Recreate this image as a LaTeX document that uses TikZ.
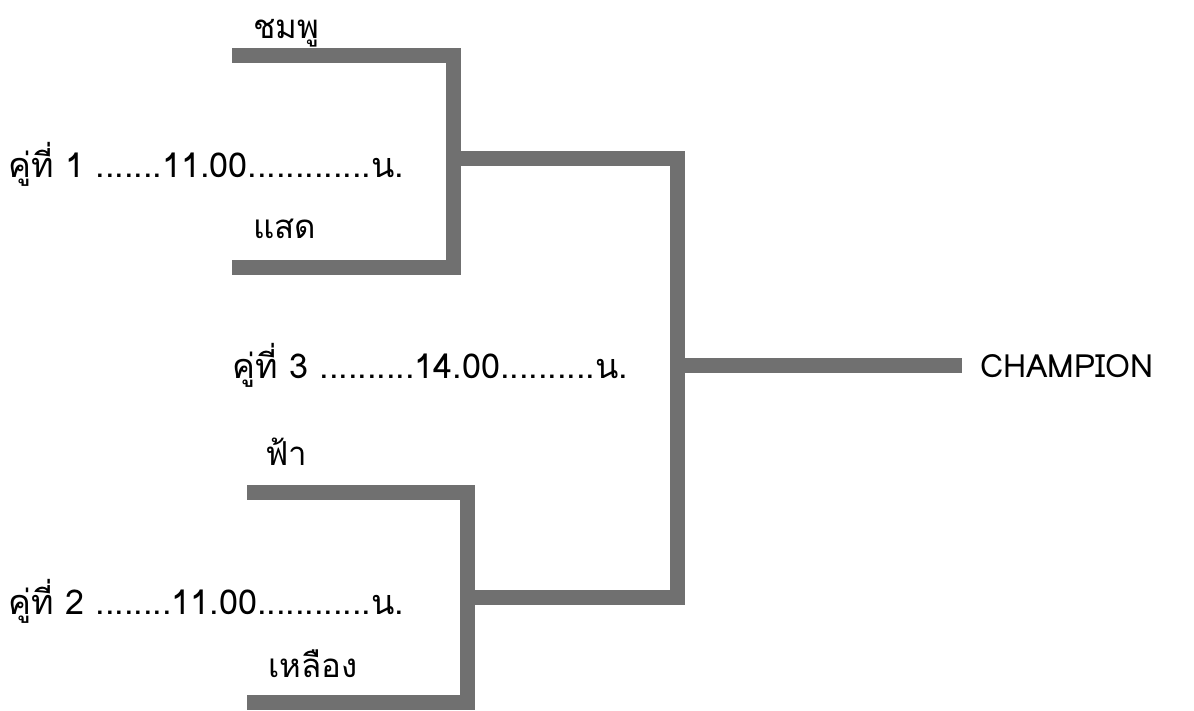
\documentclass[tikz,border=0pt]{standalone}
\usepackage{fontspec}
\newfontfamily\thaifont[Script=Thai]{Loma}
\definecolor{bracketgray}{RGB}{112,112,112}
\begin{document}
\begin{tikzpicture}[x=1pt,y=-1pt,
  bracket/.style={line width=15pt, draw=bracketgray, line cap=butt, line join=miter},
  lbl/.style={anchor=base west, inner sep=0pt, font=\thaifont\fontsize{33}{38}\selectfont},
  matchlbl/.style={lbl, font=\thaifont\fontsize{34.2}{40}\selectfont}]
\useasboundingbox (0,0) rectangle (1194,710);
% bracket coordinates
\coordinate (a1) at (232,55);
\coordinate (a2) at (453,55);
\coordinate (a3) at (453,267);
\coordinate (a4) at (232,267);
\coordinate (j1) at (453,158);
\coordinate (j2) at (677,158);
\coordinate (j3) at (677,597);
\coordinate (j4) at (467,597);
\coordinate (c1) at (677,365);
\coordinate (c2) at (962,365);
\coordinate (b1) at (247,492);
\coordinate (b2) at (467,492);
\coordinate (b3) at (467,702);
\coordinate (b4) at (247,702);
\draw[bracket] (a1) -- (a2) -- (a3) -- (a4);
\draw[bracket] (b1) -- (b2) -- (b3) -- (b4);
\draw[bracket] (j1) -- (j2) -- (j3) -- (j4);
\draw[bracket] (c1) -- (c2);
% labels
\node[lbl] (pink) at (253,38) {ชมพู};
\node[matchlbl] (m1) at (8,177) {คู่ที่ 1 .......11.00.............น.};
\node[lbl] (orange) at (253,238) {แสด};
\node[matchlbl] (m3) at (232,378) {คู่ที่ 3 ..........14.00..........น.};
\node[lbl] (sky) at (265,465) {ฟ้า};
\node[matchlbl] (m2) at (8,614) {คู่ที่ 2 ........11.00............น.};
\node[lbl] (yellow) at (268,677) {เหลือง};
\node[lbl, font=\thaifont\fontsize{32}{38}\selectfont] (champ) at (980,377) {CHAMPION};
\end{tikzpicture}
\end{document}
